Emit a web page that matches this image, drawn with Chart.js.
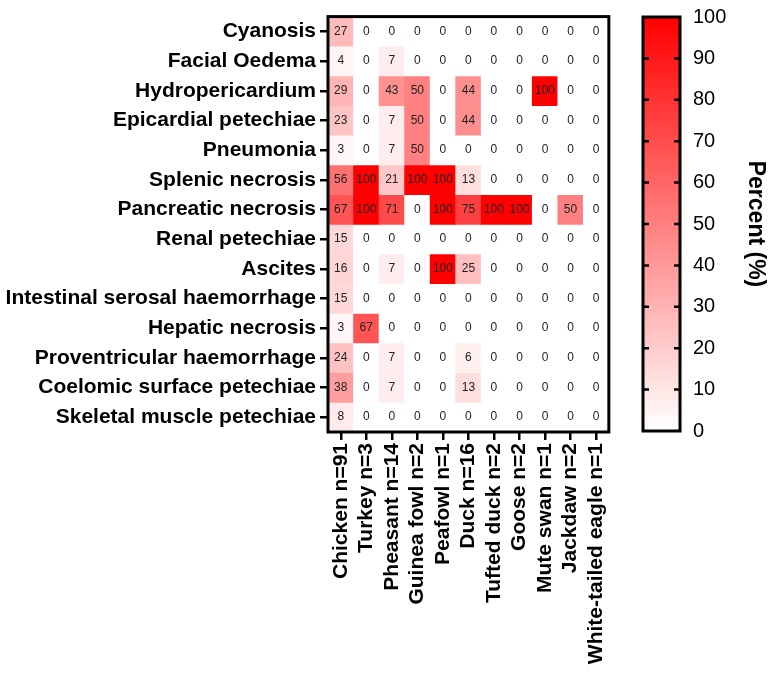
<!DOCTYPE html>
<html>
<head>
<meta charset="utf-8">
<script src="https://cdn.jsdelivr.net/npm/chart.js@4"></script>
<style>
  body { margin: 0; background: #fff; }
  canvas { position: absolute; top: 0; }
  #heat { left: 0; }
  #scale { left: 625px; }
</style>
</head>
<body>
<canvas id="heat" width="625" height="673"></canvas>
<canvas id="scale" width="145" height="673"></canvas>
<script>
const species = [
  "Chicken n=91", "Turkey n=3", "Pheasant n=14", "Guinea fowl n=2", "Peafowl n=1",
  "Duck n=16", "Tufted duck n=2", "Goose n=2", "Mute swan n=1", "Jackdaw n=2",
  "White-tailed eagle n=1",
];
const lesions = [
  "Cyanosis", "Facial Oedema", "Hydropericardium", "Epicardial petechiae", "Pneumonia",
  "Splenic necrosis", "Pancreatic necrosis", "Renal petechiae", "Ascites",
  "Intestinal serosal haemorrhage", "Hepatic necrosis", "Proventricular haemorrhage",
  "Coelomic surface petechiae", "Skeletal muscle petechiae",
];
// percent of birds with the lesion, one row per lesion, columns follow species
const percent = [
  [27, 0, 0, 0, 0, 0, 0, 0, 0, 0, 0],
  [4, 0, 7, 0, 0, 0, 0, 0, 0, 0, 0],
  [29, 0, 43, 50, 0, 44, 0, 0, 100, 0, 0],
  [23, 0, 7, 50, 0, 44, 0, 0, 0, 0, 0],
  [3, 0, 7, 50, 0, 0, 0, 0, 0, 0, 0],
  [56, 100, 21, 100, 100, 13, 0, 0, 0, 0, 0],
  [67, 100, 71, 0, 100, 75, 100, 100, 0, 50, 0],
  [15, 0, 0, 0, 0, 0, 0, 0, 0, 0, 0],
  [16, 0, 7, 0, 100, 25, 0, 0, 0, 0, 0],
  [15, 0, 0, 0, 0, 0, 0, 0, 0, 0, 0],
  [3, 67, 0, 0, 0, 0, 0, 0, 0, 0, 0],
  [24, 0, 7, 0, 0, 6, 0, 0, 0, 0, 0],
  [38, 0, 7, 0, 0, 13, 0, 0, 0, 0, 0],
  [8, 0, 0, 0, 0, 0, 0, 0, 0, 0, 0],
];

const FONT = "'Liberation Sans', Arial, sans-serif";

function shade(v) {
  const c = Math.round(255 - 2.55 * v);
  return `rgb(255,${c},${c})`;
}

// thick black box round the plot area
const frame = {
  id: "frame",
  afterDraw(chart) {
    const { ctx, chartArea: a } = chart;
    ctx.save();
    ctx.strokeStyle = "#000";
    ctx.lineWidth = 3;
    ctx.strokeRect(a.left, a.top, a.right - a.left, a.bottom - a.top);
    ctx.restore();
  },
};

// numbers written in the middle of each cell
const cellText = {
  id: "cellText",
  afterDatasetsDraw(chart) {
    const ctx = chart.ctx;
    ctx.save();
    ctx.font = `12px ${FONT}`;
    ctx.fillStyle = "#222";
    ctx.textAlign = "center";
    ctx.textBaseline = "middle";
    chart.data.datasets.forEach((ds, r) => {
      chart.getDatasetMeta(r).data.forEach((bar, c) => {
        ctx.fillText(percent[r][c], bar.x, (bar.y + bar.base) / 2);
      });
    });
    ctx.restore();
  },
};

const tickGrid = {
  drawOnChartArea: false,
  tickLength: 8,
  lineWidth: 2.5,
  color: "#000",
};

new Chart(document.getElementById("heat"), {
  type: "bar",
  data: {
    labels: species,
    datasets: lesions.map((name, r) => ({
      label: name,
      data: species.map(() => [r - 0.5, r + 0.5]),
      backgroundColor: percent[r].map(shade),
      grouped: false,
      barPercentage: 1,
      categoryPercentage: 1,
      borderWidth: 0,
    })),
  },
  options: {
    responsive: false,
    animation: false,
    layout: { padding: { top: 11, right: 16, left: 0, bottom: 0 } },
    plugins: { legend: { display: false }, tooltip: { enabled: false } },
    scales: {
      x: {
        type: "category",
        offset: true,
        grid: { ...tickGrid, offset: false },
        border: { display: false },
        ticks: {
          minRotation: 90,
          maxRotation: 90,
          autoSkip: false,
          color: "#000",
          padding: 3,
          font: { family: FONT, size: 21, weight: "bold" },
        },
        afterFit: (s) => { s.height = 241; },
      },
      y: {
        type: "linear",
        reverse: true,
        min: -0.5,
        max: 13.5,
        afterBuildTicks: (s) => { s.ticks = lesions.map((_, i) => ({ value: i })); },
        grid: tickGrid,
        border: { display: false },
        ticks: {
          callback: (v) => lesions[v],
          color: "#000",
          padding: 4,
          font: { family: FONT, size: 21, weight: "bold" },
        },
        afterFit: (s) => { s.width = 328; },
      },
    },
  },
  plugins: [cellText, frame],
});

// short inward tick marks on both edges of the colour bar
const barTicks = {
  id: "barTicks",
  afterDraw(chart) {
    const { ctx, chartArea: a } = chart;
    const y = chart.scales.y;
    ctx.save();
    ctx.strokeStyle = "#000";
    ctx.lineWidth = 2.5;
    for (let v = 10; v < 100; v += 10) {
      const py = y.getPixelForValue(v);
      ctx.beginPath();
      ctx.moveTo(a.left, py);
      ctx.lineTo(a.left + 6, py);
      ctx.moveTo(a.right - 6, py);
      ctx.lineTo(a.right, py);
      ctx.stroke();
    }
    ctx.restore();
  },
};

new Chart(document.getElementById("scale"), {
  type: "bar",
  data: {
    labels: ["scale"],
    datasets: [{
      data: [[0, 100]],
      barPercentage: 1,
      categoryPercentage: 1,
      borderWidth: 0,
      backgroundColor: (c) => {
        const area = c.chart.chartArea;
        if (!area) return "#f00";
        const g = c.chart.ctx.createLinearGradient(0, area.bottom, 0, area.top);
        g.addColorStop(0, shade(0));
        g.addColorStop(1, shade(100));
        return g;
      },
    }],
  },
  options: {
    responsive: false,
    animation: false,
    layout: { padding: { top: 11, left: 18, right: 0, bottom: 242 } },
    plugins: { legend: { display: false }, tooltip: { enabled: false } },
    scales: {
      x: { display: false },
      y: {
        position: "right",
        min: 0,
        max: 100,
        grid: { display: false },
        border: { display: false },
        ticks: {
          stepSize: 10,
          color: "#000",
          padding: 5,
          font: { family: FONT, size: 20 },
        },
        title: {
          display: true,
          text: "Percent (%)",
          color: "#000",
          padding: { top: 1, bottom: 0 },
          font: { family: FONT, size: 23, weight: "bold" },
        },
        afterFit: (s) => { s.width = 90; },
      },
    },
  },
  plugins: [barTicks, frame],
});
</script>
</body>
</html>
